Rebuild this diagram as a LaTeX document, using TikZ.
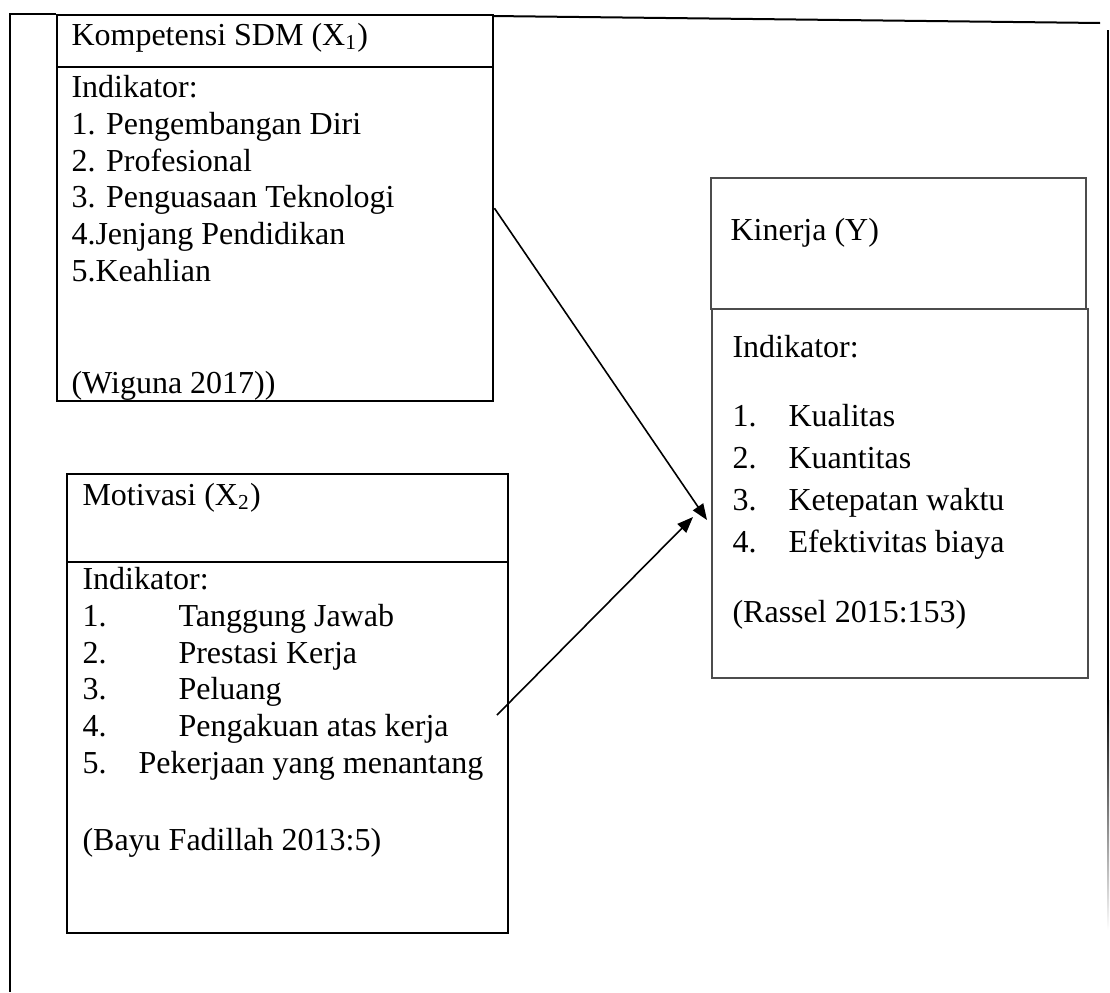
\documentclass[tikz,border=0pt]{standalone}
\usepackage{fontspec}
\setmainfont{Liberation Serif}
\usetikzlibrary{arrows.meta}

\begin{document}
\begin{tikzpicture}[
    x=0.375pt, y=-0.375pt,
    box/.style={draw, line width=0.9pt, inner sep=0pt, anchor=north west},
    ybox/.style={draw=black!70, line width=0.6pt, inner sep=0pt, anchor=north west},
    txt/.style={anchor=base west, inner sep=0pt, align=left, font=\fontsize{12}{13.75}\selectfont},
    frame/.style={line width=0.75pt},
    arrow/.style={-{Triangle[length=6pt, width=4.6pt]}, line width=0.6pt}
]
    \useasboundingbox (0,0) rectangle (1110,992);

    % boxes
    \node[box, minimum width=163.5pt, minimum height=144.75pt] (kompetensi) at (56,14) {};
    \node[box, minimum width=165.4pt, minimum height=172.1pt] (motivasi) at (66,473) {};
    \node[ybox, minimum width=140.6pt, minimum height=49.1pt] (kinerja) at (710,177) {};
    \node[ybox, minimum width=141pt, minimum height=138.4pt] (kinerjaind) at (711,308) {};
    \draw[line width=0.9pt] (kompetensi.west |- 0,67) -- (kompetensi.east |- 0,67);
    \draw[line width=0.9pt] (motivasi.west |- 0,562) -- (motivasi.east |- 0,562);

    % texts (multi-line nodes sit on their last line)
    \node[txt] (komptitle) at (71,45) {Kompetensi SDM (X\textsubscript{1})};
    \node[txt] (kompind) at (71,281) {Indikator:\\1. Pengembangan Diri\\2. Profesional\\3. Penguasaan Teknologi\\4.Jenjang Pendidikan\\5.Keahlian};
    \node[txt] (kompsrc) at (71,393) {(Wiguna 2017))};

    \node[txt] (mottitle) at (82,505) {Motivasi (X\textsubscript{2})};
    \node[txt] (motind) at (82,773) {Indikator:\\
        \makebox[36pt][l]{1.}Tanggung Jawab\\
        \makebox[36pt][l]{2.}Prestasi Kerja\\
        \makebox[36pt][l]{3.}Peluang\\
        \makebox[36pt][l]{4.}Pengakuan atas kerja\\
        \makebox[21pt][l]{5.}Pekerjaan yang menantang};
    \node[txt] (motsrc) at (82,850) {(Bayu Fadillah 2013:5)};

    \node[txt] (kintitle) at (730,240) {Kinerja (Y)};
    \node[txt] (kinind) at (732,357) {Indikator:};
    \node[txt, font=\fontsize{12}{15.75}\selectfont] (kinlist) at (732,552) {%
        \makebox[21pt][l]{1.}Kualitas\\
        \makebox[21pt][l]{2.}Kuantitas\\
        \makebox[21pt][l]{3.}Ketepatan waktu\\
        \makebox[21pt][l]{4.}Efektivitas biaya};
    \node[txt] (kinsrc) at (732,622) {(Rassel 2015:153)};

    % outer frame
    \draw[frame] (kompetensi.north west) -- (10,14) -- (10,992);
    \draw[frame] (492,16) -- (1100,23);
    \draw[frame] (1108,30) -- (1108,700);
    \shade[top color=black, bottom color=white] (1107,700) rectangle (1109,930);

    % arrows
    \coordinate (yin1) at (707,520);
    \coordinate (yin2) at (693,517);
    \coordinate (x2out) at (497,715);
    \draw[arrow] (kompetensi.east) -- (yin1);
    \draw[arrow] (x2out) -- (yin2);
\end{tikzpicture}
\end{document}
